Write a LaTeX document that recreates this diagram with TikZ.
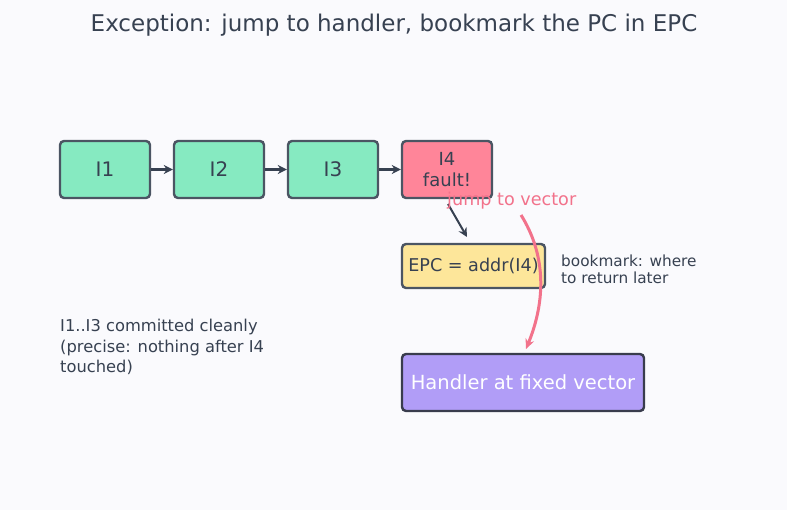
\documentclass[tikz,border=0pt]{standalone}
\usepackage{fontspec}
\setmainfont{DejaVu Sans}
\usetikzlibrary{positioning,arrows.meta}
\definecolor{bgc}{HTML}{FAFAFD}
\definecolor{ink}{HTML}{374151}
\definecolor{edge}{HTML}{4B5563}
\definecolor{okc}{HTML}{86EAC1}
\definecolor{badc}{HTML}{FF8599}
\definecolor{epcc}{HTML}{FDE69A}
\definecolor{hndc}{HTML}{B19DF7}
\definecolor{pinkc}{HTML}{F2728B}
\begin{document}
\begin{tikzpicture}[x=1pt,y=-1pt,
		instr/.style={draw=edge,line width=2.4pt,rounded corners=4pt,minimum width=90pt,minimum height=57pt,inner sep=0pt,text=ink,font=\fontsize{20}{22}\selectfont},
		flow/.style={-{Stealth[length=9pt,width=9pt]},line width=2.4pt,draw=ink},
		note/.style={text=ink,align=left,inner sep=0pt}]
	\fill[bgc] (0,0) rectangle (787,510);
	\useasboundingbox (0,0) rectangle (787,510);
	\node[text=ink,font=\fontsize{23}{26}\selectfont] (title) at (394,25) {Exception: jump to handler, bookmark the PC in EPC};
	% pipeline
	\node[instr,fill=okc] (i1) at (105,169.5) {I1};
	\node[instr,fill=okc,right=21.6pt of i1] (i2) {I2};
	\node[instr,fill=okc,right=21.6pt of i2] (i3) {I3};
	\node[instr,fill=badc,right=21.6pt of i3,align=center,font=\fontsize{18}{21}\selectfont] (i4) {I4\\fault!};
	\draw[flow] (i1) -- (i2);
	\draw[flow] (i2) -- (i3);
	\draw[flow] (i3) -- (i4);
	% saved pc
	\node[instr,fill=epcc,minimum width=143pt,minimum height=44pt,font=\fontsize{17.6}{20}\selectfont] (epc) at (473.5,266) {EPC = addr(I4)};
	\coordinate (f0) at (448,204);
	\coordinate (f1) at (467,237);
	\draw[flow,line width=2pt] (f0) -- (f1);
	\node[note,anchor=north west,font=\fontsize{15.3}{17}\selectfont] (mark) at (561,255) {bookmark: where\\to return later};
	% handler
	\node[instr,fill=hndc,draw=edge!80!hndc!60!black,minimum width=242pt,text=white,font=\fontsize{19.5}{22}\selectfont] (hnd) at (523,382.5) {Handler at fixed vector};
	\coordinate (v0) at (521,215);
	\coordinate (v1) at (526,349);
	\draw[pinkc,line width=3pt,-{Stealth[length=10pt,width=9pt]}] (v0) .. controls (546,255) and (546,300) .. (v1);
	\node[anchor=west,inner sep=0pt,text=pinkc,font=\fontsize{17.6}{20}\selectfont] (jump) at (447,201) {jump to vector};
	% side note
	\node[note,anchor=north west,font=\fontsize{16.3}{20.7}\selectfont] (done) at (60,319) {I1..I3 committed cleanly\\(precise: nothing after I4\\touched)};
\end{tikzpicture}
\end{document}
